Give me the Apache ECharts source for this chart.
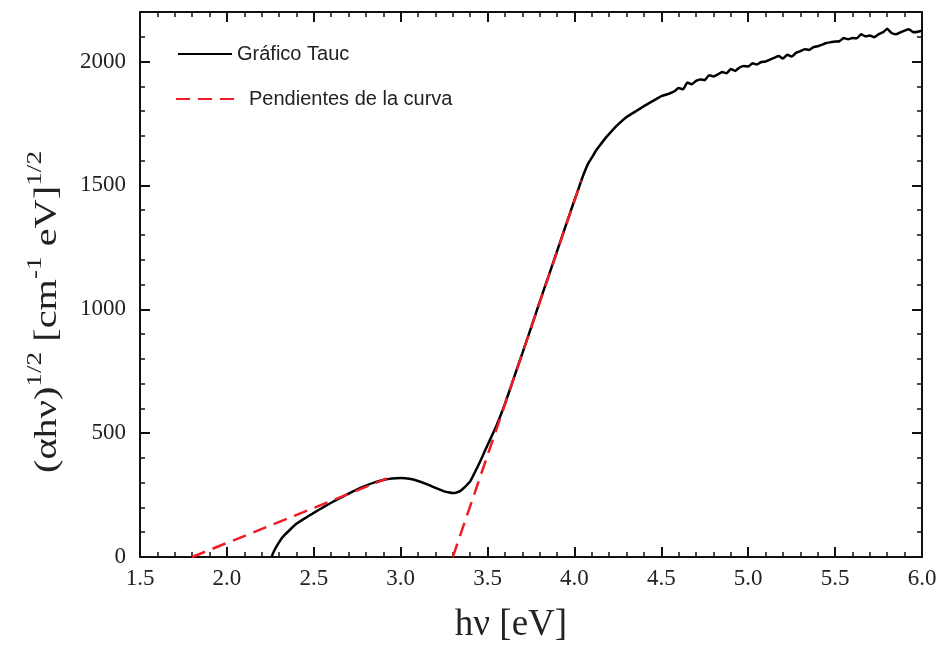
<!DOCTYPE html>
<html>
<head>
<meta charset="utf-8">
<script src="https://cdn.jsdelivr.net/npm/echarts@6/dist/echarts.min.js"></script>
<style>html,body{margin:0;padding:0;background:#fff}#c{width:944px;height:646px}</style>
</head>
<body>
<div id="c"></div>
<script>
// ---- data ----
const taucX = [2.257,2.27,2.29,2.32,2.36,2.40,2.45,2.50,2.55,2.60,2.65,2.70,2.75,2.80,2.85,2.90,2.95,3.00,3.05,3.10,3.15,3.20,3.25,3.28,3.30,3.32,3.35,3.38,3.40,3.44,3.47,3.50,3.55,3.60,3.65,3.70,3.75,3.80,3.85,3.90,3.95,4.00,4.03,4.05,4.08,4.10,4.125,4.15,4.175,4.20,4.25,4.30,4.35,4.40,4.45,4.475,
4.50,4.525,4.55,4.575,4.60,4.625,4.65,4.675,4.70,4.725,4.75,4.775,4.80,4.825,4.85,4.875,4.90,4.925,4.95,4.975,5.00,5.025,5.05,5.075,5.10,5.125,5.15,5.175,5.20,5.225,5.25,5.275,5.30,5.325,5.35,5.375,5.40,5.425,5.45,5.475,5.50,5.525,5.55,5.575,5.60,5.625,5.65,5.675,5.70,5.725,5.75,5.775,5.80,5.825,5.85,5.875,5.90,5.925,5.95,5.975,6.00];
const taucY = [0,22,48,80,108,134,157,178,199,219,238,256,273,288,301,311,317,319,316,307,294,279,265,260,258,260,270,290,305,360,405,452,528,618,720,822,925,1030,1132,1235,1338,1440,1500,1540,1590,1612,1642,1665,1688,1708,1745,1776,1798,1820,1840,1850,
1860,1866,1872,1880,1893,1888,1915,1908,1922,1928,1925,1945,1940,1948,1958,1953,1970,1962,1976,1982,1980,1993,1988,1998,2000,2008,2015,2022,2012,2027,2020,2035,2042,2050,2047,2058,2062,2068,2075,2078,2081,2082,2095,2090,2095,2094,2110,2102,2105,2098,2110,2118,2132,2115,2110,2118,2125,2130,2118,2120,2125];
const fitLowX = [1.80, 2.92];
const fitLowY = [0, 317];
const fitHighX = [3.30, 4.04];
const fitHighY = [0, 1520];
const xTicks = [1.5, 2.0, 2.5, 3.0, 3.5, 4.0, 4.5, 5.0, 5.5, 6.0];
const yTicks = [0, 500, 1000, 1500, 2000];
const legendNames = ['Gráfico Tauc', 'Pendientes de la curva'];
const xTitle = 'hν [eV]';
const yTitleRich = '{n|(αhν)}{s|1/2}{n| [cm}{s|-1}{n| eV]}{s|1/2}';

const zip = (xs, ys) => xs.map((x, i) => [x, ys[i]]);
const serif = 'Liberation Serif';
const INK = '#111';

const chart = echarts.init(document.getElementById('c'), null, {renderer: 'canvas'});

function xAx(pos, labels) {
  return {
    type: 'value', position: pos, min: 1.5, max: 6.0, interval: 0.5,
    axisLine: {show: true, onZero: false, lineStyle: {color: INK, width: 2}},
    axisTick: {show: true, inside: true, length: 10, lineStyle: {color: INK, width: 2}},
    minorTick: {show: true, splitNumber: 5, length: 5, lineStyle: {color: INK, width: 1.5}},
    splitLine: {show: false},
    axisLabel: {show: labels, margin: 10, fontFamily: serif, fontSize: 23, color: '#222',
      formatter: v => xTicks.some(t => Math.abs(t - v) < 1e-9) ? v.toFixed(1) : ''}
  };
}
function yAx(pos, major, labels) {
  return {
    type: 'value', position: pos, min: 0, max: 2200, interval: major ? 500 : 100,
    axisLine: {show: major, onZero: false, lineStyle: {color: INK, width: 2}},
    axisTick: {show: true, inside: true, length: major ? 10 : 5, lineStyle: {color: INK, width: major ? 2 : 1.5}},
    splitLine: {show: false},
    axisLabel: {show: labels, margin: 14, fontFamily: serif, fontSize: 23, color: '#222',
      formatter: v => yTicks.includes(v) ? String(v) : ''}
  };
}

chart.setOption({
  animation: false,
  backgroundColor: '#fff',
  grid: {left: 140, right: 22, top: 12, bottom: 89, containLabel: false},
  xAxis: [xAx('bottom', true), xAx('top', false)],
  yAxis: [yAx('left', true, true), yAx('left', false, false), yAx('right', true, false), yAx('right', false, false)],
  legend: [
    {data: [legendNames[0]], left: 172, top: 39, itemWidth: 54, itemHeight: 18,
      itemStyle: {color: 'transparent', borderWidth: 0},
      textStyle: {fontFamily: 'Liberation Sans', fontSize: 20, color: '#222', padding: [0,0,0,0]}},
    {data: [legendNames[1]], left: 170, top: 84, itemWidth: 66, itemHeight: 18,
      itemStyle: {color: 'transparent', borderWidth: 0},
      textStyle: {fontFamily: 'Liberation Sans', fontSize: 20, color: '#222', padding: [0,0,0,2]}}
  ],
  graphic: [
    {type: 'text', x: 511, y: 625, z: 10,
      style: {text: xTitle, font: '37px "Liberation Serif"', fill: '#222', align: 'center', verticalAlign: 'middle'}},
    {type: 'text', x: 44, y: 312, rotation: Math.PI / 2, scaleX: 1.3, z: 10,
      style: {text: yTitleRich, align: 'center', verticalAlign: 'middle',
        rich: {
          n: {fontFamily: serif, fontSize: 31, fill: '#222', lineHeight: 38, verticalAlign: 'bottom'},
          s: {fontFamily: serif, fontSize: 21, fill: '#222', lineHeight: 38, verticalAlign: 'top'}
        }}}
  ],
  series: [
    {name: legendNames[0], type: 'line', data: zip(taucX, taucY), showSymbol: false, symbol: 'none',
      smooth: 0.15, lineStyle: {color: '#000', width: 2.5}, itemStyle: {color: '#000'}, z: 2},
    {name: legendNames[1], type: 'line', data: zip(fitLowX, fitLowY), showSymbol: false, symbol: 'none',
      lineStyle: {color: '#ee1c24', width: 2.5, type: [14, 8]}, itemStyle: {color: '#ee1c24'}, z: 3},
    {name: legendNames[1], type: 'line', data: zip(fitHighX, fitHighY), showSymbol: false, symbol: 'none',
      lineStyle: {color: '#ee1c24', width: 2.5, type: [14, 8]}, itemStyle: {color: '#ee1c24'}, z: 3}
  ]
});
</script>
</body>
</html>
